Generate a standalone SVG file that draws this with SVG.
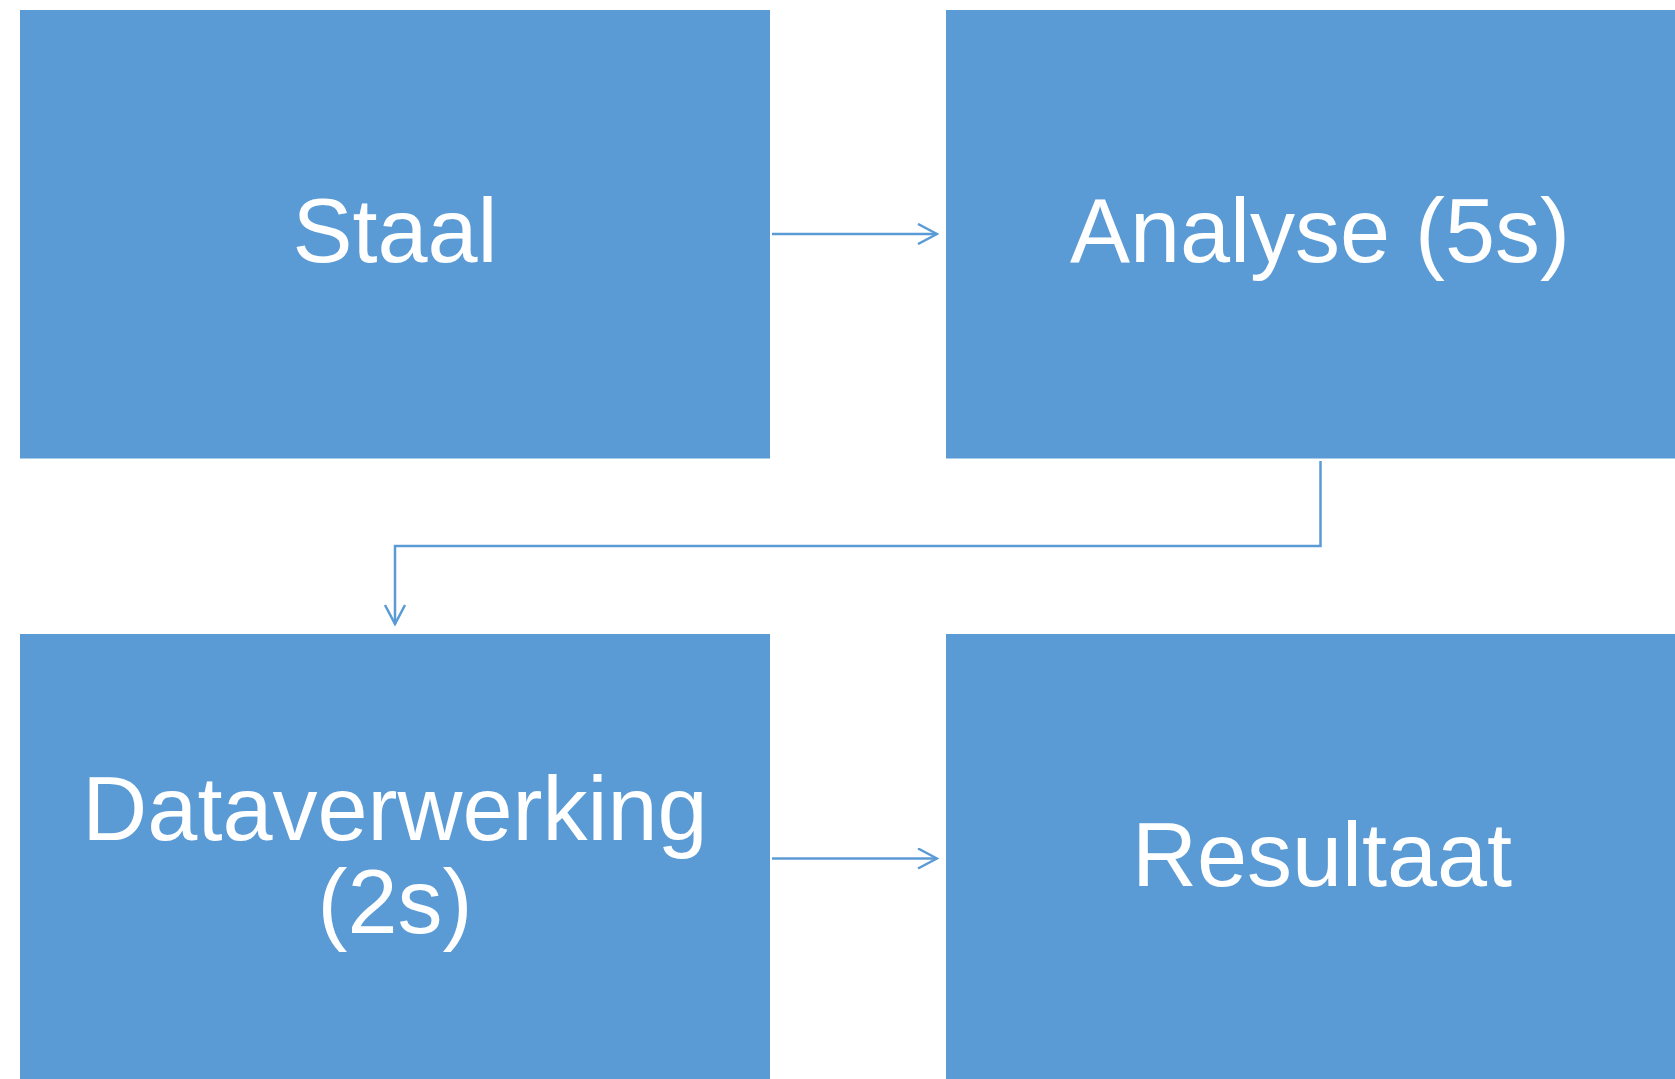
<svg xmlns="http://www.w3.org/2000/svg" width="1675" height="1079" viewBox="0 0 1675 1079">
<style>
.box{fill:#5B9BD5}
.lbl{fill:#FFFFFF;font-family:"Liberation Sans",Arial,sans-serif;font-size:90px;text-anchor:middle}
.con{fill:none;stroke:#5B9BD5;stroke-width:2.5}
</style>
<defs>
<marker id="arr" viewBox="0 0 22 22" refX="20" refY="11" markerWidth="22" markerHeight="22" markerUnits="userSpaceOnUse" orient="auto">
<path d="M1,1 L20,11 L1,21" fill="none" stroke="#5B9BD5" stroke-width="2.5"/>
</marker>
</defs>
<rect width="1675" height="1079" fill="#FFFFFF"/>
<g id="node-staal">
<rect class="box" x="20" y="10" width="750" height="448.5"/>
<text class="lbl" x="395" y="262">Staal</text>
</g>
<g id="node-analyse">
<rect class="box" x="946" y="10" width="750" height="448.5"/>
<text class="lbl" x="1320" y="262">Analyse (5s)</text>
</g>
<g id="node-dataverwerking">
<rect class="box" x="20" y="634" width="750" height="449"/>
<text class="lbl" x="395" y="840">Dataverwerking</text>
<text class="lbl" x="395" y="933">(2s)</text>
</g>
<g id="node-resultaat">
<rect class="box" x="946" y="634" width="750" height="449"/>
<text class="lbl" x="1322" y="886">Resultaat</text>
</g>
<g id="connectors">
<line class="con" x1="772" y1="234" x2="937" y2="234" marker-end="url(#arr)"/>
<polyline class="con" points="1320.5,461 1320.5,546 395,546 395,624" marker-end="url(#arr)"/>
<line class="con" x1="772" y1="858.5" x2="937" y2="858.5" marker-end="url(#arr)"/>
</g>
</svg>
